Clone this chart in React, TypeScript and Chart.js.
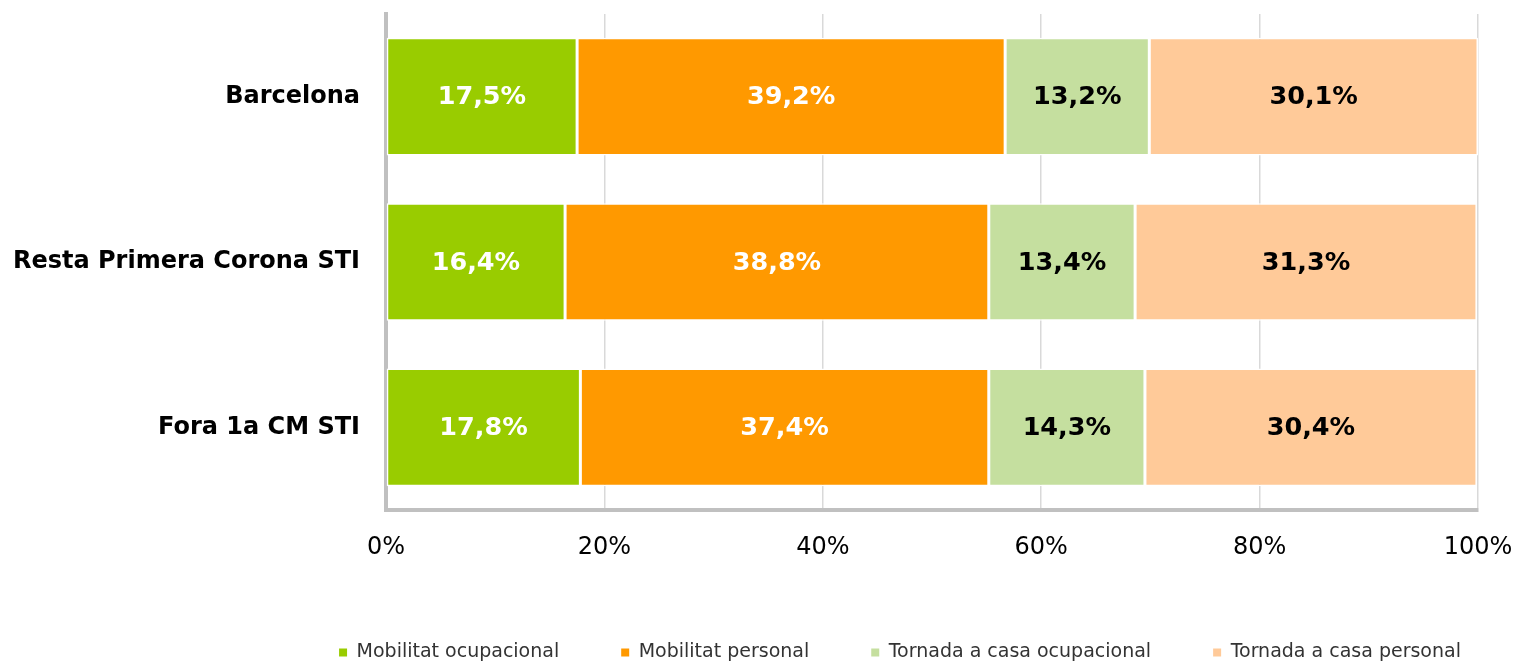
import React, { useEffect, useRef } from "react";
import { Chart, registerables } from "chart.js";

Chart.register(...registerables);

const categories = ["Barcelona", "Resta Primera Corona STI", "Fora 1a CM STI"];
const seriesNames = [
  "Mobilitat ocupacional",
  "Mobilitat personal",
  "Tornada a casa ocupacional",
  "Tornada a casa personal",
];
const mobilitatOcupacional = [17.5, 16.4, 17.8];
const mobilitatPersonal = [39.2, 38.8, 37.4];
const tornadaOcupacional = [13.2, 13.4, 14.3];
const tornadaPersonal = [30.1, 31.3, 30.4];
const tickValues = [0, 20, 40, 60, 80, 100];

const seriesColors = ["#99CC00", "#FF9900", "#C5DF9F", "#FFCA99"];
const labelColors = ["#FFFFFF", "#FFFFFF", "#000000", "#000000"];

const FONT = "'DejaVu Sans', Verdana, sans-serif";

const valueLabelPlugin = {
  id: "valueLabels",
  afterDatasetsDraw(chart: any) {
    const ctx = chart.ctx;
    ctx.save();
    ctx.font = `bold 25.5px ${FONT}`;
    ctx.textAlign = "center";
    ctx.textBaseline = "middle";
    chart.data.datasets.forEach((ds: any, i: number) => {
      const meta = chart.getDatasetMeta(i);
      meta.data.forEach((bar: any, j: number) => {
        const p = bar.getProps(["x", "y", "base"], true);
        const cx = (p.x + p.base) / 2;
        ctx.fillStyle = labelColors[i];
        const v = ds.data[j] as number;
        ctx.fillText(v.toFixed(1).replace(".", ",") + "%", cx, p.y + 1);
      });
    });
    ctx.restore();
  },
};

// shift the legend box so it is centred like in the original
const legendShiftPlugin = {
  id: "legendShift",
  afterLayout(chart: any) {
    if (chart.legend) {
      chart.legend.left += 161;
      chart.legend.right += 161;
    }
  },
};

export default function App() {
  const ref = useRef<HTMLCanvasElement>(null);
  useEffect(() => {
    if (!ref.current) return;
    const data = [mobilitatOcupacional, mobilitatPersonal, tornadaOcupacional, tornadaPersonal];
    const chart = new Chart(ref.current, {
      type: "bar",
      data: {
        labels: categories,
        datasets: data.map((d, i) => ({
          label: seriesNames[i],
          data: d,
          backgroundColor: seriesColors[i],
          borderColor: "#FFFFFF",
          borderWidth: 1.5,
          borderSkipped: false,
          barPercentage: 0.712,
          categoryPercentage: 1,
        })),
      },
      plugins: [valueLabelPlugin, legendShiftPlugin],
      options: {
        indexAxis: "y",
        responsive: false,
        animation: false,
        layout: { padding: { left: 0, right: 39, top: 14, bottom: -9 } },
        scales: {
          x: {
            stacked: true,
            min: 0,
            max: 100,
            afterBuildTicks(scale: any) {
              scale.ticks = tickValues.map((v) => ({ value: v }));
            },
            afterFit(scale: any) {
              scale.height = 71;
              scale.paddingLeft = 0;
              scale.paddingRight = 0;
            },
            ticks: {
              callback: (v: any) => v + "%",
              font: { family: FONT, size: 24 },
              color: "#000000",
              padding: 23,
              maxRotation: 0,
            },
            grid: { color: "#D9D9D9", lineWidth: 1.5, drawTicks: false },
            border: { display: true, color: "#C0C0C0", width: 4 },
          },
          y: {
            stacked: true,
            afterFit(scale: any) {
              scale.width = 386;
              scale.paddingTop = 0;
              scale.paddingBottom = 0;
            },
            ticks: {
              font: { family: FONT, size: 24, weight: "bold" },
              color: "#000000",
              padding: 26,
            },
            grid: { display: false, drawTicks: false },
            border: { display: true, color: "#C0C0C0", width: 4 },
          },
        },
        plugins: {
          legend: {
            position: "bottom",
            labels: {
              boxWidth: 8,
              boxHeight: 8,
              padding: 62,
              color: "#333333",
              font: { family: FONT, size: 19 },
              generateLabels(chart: any) {
                return Chart.defaults.plugins.legend.labels
                  .generateLabels(chart)
                  .map((l: any) => ({ ...l, lineWidth: 0, strokeStyle: "transparent" }));
              },
            },
          },
          tooltip: { enabled: false },
        },
      } as any,
    });
    return () => chart.destroy();
  }, []);
  return (
    <div style={{ position: "fixed", left: 0, top: 0, width: 1517, height: 663, background: "#fff" }}>
      <canvas ref={ref} width={1517} height={663} style={{ display: "block" }} />
    </div>
  );
}
